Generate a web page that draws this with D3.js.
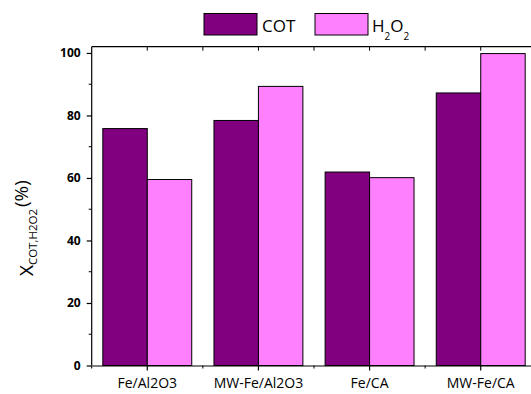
<!DOCTYPE html>
<html>
<head>
<meta charset="utf-8">
<script src="https://cdn.jsdelivr.net/npm/d3@7"></script>
<style>
  body { margin: 0; background: #fff; }
  svg { display: block; font-family: 'Open Sans', sans-serif; }
</style>
</head>
<body>
<div class="chart"></div>
<script>
const categories = ['Fe/Al2O3', 'MW-Fe/Al2O3', 'Fe/CA', 'MW-Fe/CA'];
const seriesNames = ['COT', 'H2O2'];
const cotValues = [75.8, 78.4, 61.9, 87.2];
const h2o2Values = [59.5, 89.3, 60.1, 99.8];
const yTicks = [0, 20, 40, 60, 80, 100];

const width = 531, height = 394;
const plotLeft = 91.7, plotRight = 536.3, plotTop = 46.7, plotBottom = 365.5;

const svg = d3.select('.chart').append('svg')
  .attr('width', width).attr('height', height);

const x0 = d3.scaleBand().domain(categories).range([plotLeft, plotRight]).paddingInner(0.2).paddingOuter(0.1);
const x1 = d3.scaleBand().domain(seriesNames).range([0, x0.bandwidth()]);
const y = d3.scaleLinear().domain([0, 102]).range([plotBottom, plotTop]);
const color = d3.scaleOrdinal().domain(seriesNames).range(['#800080', '#ff80ff']);

const rows = categories.map((c, i) => ({ cat: c, COT: cotValues[i], H2O2: h2o2Values[i] }));

// bars
svg.append('g')
  .selectAll('g')
  .data(rows)
  .enter()
  .append('g')
  .attr('transform', d => `translate(${x0(d.cat)},0)`)
  .selectAll('rect')
  .data(d => seriesNames.map(k => ({ key: k, value: d[k] })))
  .enter()
  .append('rect')
  .attr('x', d => x1(d.key))
  .attr('width', x1.bandwidth())
  .attr('y', d => y(d.value))
  .attr('height', d => y(0) - y(d.value))
  .attr('fill', d => color(d.key))
  .attr('stroke', '#000')
  .attr('stroke-width', 1);

// minor tick positions between groups
const step = x0.step();
const centers = categories.map(c => x0(c) + x0.bandwidth() / 2);
const between = [centers[0] - step / 2].concat(centers.map(c => c + step / 2));

const axisStyle = g => {
  g.selectAll('line, path').attr('stroke', '#000').attr('stroke-width', 1.2);
};

// left axis
const yAxis = svg.append('g')
  .attr('transform', `translate(${plotLeft},0)`)
  .call(d3.axisLeft(y).tickValues(yTicks).tickSize(5).tickSizeOuter(0).tickPadding(6));
yAxis.select('.domain').attr('d', `M0,${plotBottom}V${plotTop}`);
yAxis.selectAll('text')
  .attr('font-family', "'Open Sans', sans-serif")
  .attr('font-size', 12).attr('font-weight', 'bold').attr('fill', '#000');
yAxis.call(axisStyle);
yAxis.append('g')
  .selectAll('line')
  .data([10, 30, 50, 70, 90])
  .enter()
  .append('line')
  .attr('x1', -3).attr('x2', 0)
  .attr('y1', d => y(d)).attr('y2', d => y(d))
  .attr('stroke', '#000');

// bottom axis
const xAxis = svg.append('g')
  .attr('transform', `translate(0,${plotBottom})`)
  .call(d3.axisBottom(x0).tickSize(5).tickSizeOuter(0).tickPadding(8));
xAxis.selectAll('text')
  .attr('font-family', "'Open Sans', sans-serif")
  .attr('font-size', 14).attr('fill', '#000');
xAxis.call(axisStyle);
xAxis.append('g')
  .selectAll('line')
  .data(between)
  .enter()
  .append('line')
  .attr('x1', d => d).attr('x2', d => d)
  .attr('y1', 0).attr('y2', 3)
  .attr('stroke', '#000');

// top axis (inward ticks)
const topAxis = svg.append('g').attr('transform', `translate(0,${plotTop})`);
topAxis.append('line')
  .attr('x1', plotLeft).attr('x2', plotRight)
  .attr('stroke', '#000').attr('stroke-width', 1.2);
topAxis.selectAll('line.t')
  .data(centers.concat(between.slice(1)))
  .enter()
  .append('line')
  .attr('class', 't')
  .attr('x1', d => d).attr('x2', d => d)
  .attr('y1', 0).attr('y2', 4)
  .attr('stroke', '#000');

// y label
const yl = svg.append('text')
  .attr('transform', `translate(33,${(plotTop + plotBottom) / 2 + 22}) rotate(-90)`)
  .attr('text-anchor', 'middle')
  .attr('font-family', "'Open Sans', sans-serif")
  .attr('fill', '#000');
yl.append('tspan').attr('font-size', 19).text('X');
yl.append('tspan').attr('font-size', 11.5).attr('dy', 4).text('COT,H2O2');
yl.append('tspan').attr('font-size', 19).attr('dy', -9).attr('dx', 2).text('(%)');

// legend
const legend = svg.append('g');
const legendX = [204, 315];
legend.selectAll('rect')
  .data(seriesNames)
  .enter()
  .append('rect')
  .attr('x', (d, i) => legendX[i])
  .attr('y', 13.5)
  .attr('width', 53)
  .attr('height', 21.5)
  .attr('fill', d => color(d))
  .attr('stroke', '#000')
  .attr('stroke-width', 1);
legend.append('text')
  .attr('x', 262).attr('y', 32)
  .attr('font-size', 17).attr('fill', '#000')
  .text('COT');
const lt = legend.append('text')
  .attr('x', 372).attr('y', 32)
  .attr('font-size', 17).attr('fill', '#000');
lt.append('tspan').text('H');
lt.append('tspan').attr('font-size', 10).attr('dy', 8).attr('dx', 0).text('2');
lt.append('tspan').attr('dy', -8).attr('dx', 0).text('O');
lt.append('tspan').attr('font-size', 10).attr('dy', 8).attr('dx', 0).text('2');
</script>
</body>
</html>
